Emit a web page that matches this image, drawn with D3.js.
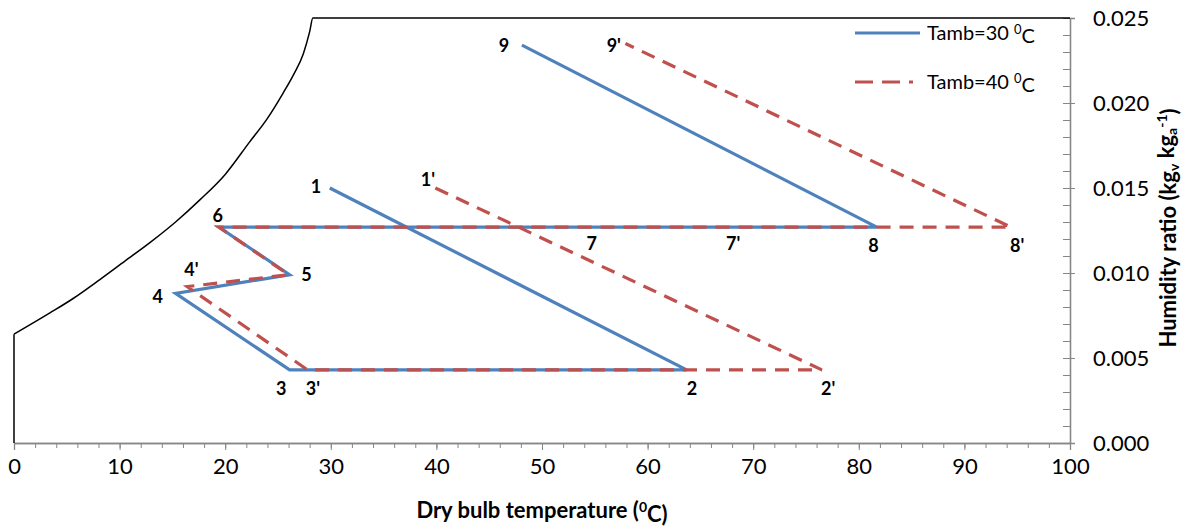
<!DOCTYPE html>
<html lang="en">
<head>
<meta charset="utf-8">
<title>Psychrometric chart</title>
<style>
  body {margin: 0; background: #fff; font-family: Lato, "Noto Sans", sans-serif;}
  svg  {display: block;}
  .tick text {font-size: 22px; fill: #000; font-family: Lato, sans-serif;}
  .lbl  {font-size: 18px; font-weight: bold; fill: #000;}
  .title {font-size: 22px; font-weight: bold; fill: #000;}
</style>
</head>
<body>
<svg id="chart" width="1185" height="529"></svg>

<script src="https://d3js.org/d3.v7.min.js"></script>
<script>
// saturation curve
const satT = [0, 3.4, 5.6, 8.1, 10.5, 12.9, 15.3, 17.6, 20.0, 22.3, 24.0, 25.5, 26.5, 27.4, 28.0, 28.3, 100];
const satW = [0.0064, 0.00765, 0.0085, 0.0096, 0.0107, 0.0118, 0.0130, 0.0143, 0.0158, 0.0177, 0.0191, 0.0206, 0.0217, 0.0229, 0.0242, 0.025, 0.025];

// process points 1 -> 2 -> 3 -> 4 -> 5 -> 6 -> 8 -> 9
const pts30T = [29.9, 63.7, 26.1, 15.3, 26.1, 19.4, 81.7, 48.1];
const pts30W = [0.0150, 0.0043, 0.0043, 0.0088, 0.0099, 0.0127, 0.0127, 0.0234];
const pts40T = [39.9, 76.5, 27.8, 16.4, 26.0, 19.4, 94.4, 57.9];
const pts40W = [0.0150, 0.0043, 0.0043, 0.0092, 0.0099, 0.0127, 0.0127, 0.0235];

// point labels
const lblText = ["1", "2", "3", "4", "5", "6", "7", "8", "9", "1'", "2'", "3'", "4'", "7'", "8'", "9'"];
const lblT    = [28.6, 64.2, 25.3, 13.6, 27.7, 19.3, 54.7, 81.4, 46.4, 39.2, 77.1, 28.3, 16.8, 68.1, 95.0, 56.8];
const lblW    = [0.0151, 0.0032, 0.0032, 0.0086, 0.0099, 0.0134, 0.0117, 0.0116, 0.0234, 0.0155, 0.0032, 0.0032, 0.0102, 0.0117, 0.0116, 0.0234];

const xTicks = d3.range(0, 101, 10);
const yTicks = [0, 0.005, 0.010, 0.015, 0.020, 0.025];

const svg = d3.select("#chart");
const x = d3.scaleLinear().domain([0, 100]).range([14, 1070]);
const y = d3.scaleLinear().domain([0, 0.025]).range([443, 18]);
const axisCol = "#868686";

// x axis
const gx = svg.append("g").attr("transform", "translate(0,443)");
gx.call(d3.axisBottom(x).tickValues(d3.range(0, 101, 2)).tickFormat("").tickSize(5).tickSizeOuter(0));
gx.append("g").call(d3.axisBottom(x).tickValues(xTicks).tickSize(7).tickPadding(8).tickFormat(d3.format("d")));
gx.selectAll("path, line").attr("stroke", axisCol);
gx.selectAll("path.domain").attr("stroke-width", 1.3);

// y axis on the right
const gy = svg.append("g").attr("transform", "translate(1070,0)");
gy.call(d3.axisLeft(y).tickValues(d3.range(0, 0.0251, 0.001)).tickFormat("").tickSize(7).tickSizeOuter(0));
gy.append("g").call(d3.axisRight(y).tickValues(yTicks).tickSize(5).tickPadding(18).tickFormat(d3.format(".3f")));
gy.selectAll("path, line").attr("stroke", axisCol);
gy.selectAll("path.domain").attr("stroke-width", 1.3);
gy.selectAll(".tick text").attr("dy", "0.35em");

// saturation curve
const satLine = d3.line().x(d => x(d[0])).y(d => y(d[1])).curve(d3.curveMonotoneX);
svg.append("path")
  .attr("d", `M${x(0)},${y(0)}L${x(0)},${y(satW[0])}`)
  .attr("stroke", "#000").attr("stroke-width", 1.5).attr("fill", "none");
svg.append("path")
  .attr("d", satLine(satT.map((t, i) => [t, satW[i]])))
  .attr("stroke", "#000").attr("stroke-width", 1.5).attr("fill", "none");

const line = d3.line().x(d => x(d[0])).y(d => y(d[1]));
svg.append("path")
  .attr("d", line(pts30T.map((t, i) => [t, pts30W[i]])))
  .attr("stroke", "#4F81BD").attr("stroke-width", 3.2).attr("fill", "none")
  .attr("stroke-linejoin", "miter");
svg.append("path")
  .attr("d", line(pts40T.map((t, i) => [t, pts40W[i]])))
  .attr("stroke", "#C0504D").attr("stroke-width", 3.2).attr("fill", "none")
  .attr("stroke-dasharray", "14,9");

// labels
svg.append("g").selectAll("text").data(lblText).join("text")
  .attr("class", "lbl")
  .attr("x", (d, i) => x(lblT[i])).attr("y", (d, i) => y(lblW[i]))
  .attr("text-anchor", "middle").attr("dy", "0.35em")
  .text(d => d);

// legend
const legend = [["Tamb=30 ", "#4F81BD", null, 33], ["Tamb=40 ", "#C0504D", "18,9,18,9,4", 82]];
legend.forEach(([txt, col, dash, ly]) => {
  svg.append("line").attr("x1", 855).attr("x2", 920).attr("y1", ly).attr("y2", ly)
    .attr("stroke", col).attr("stroke-width", 3).attr("stroke-dasharray", dash);
  const t = svg.append("text").attr("x", 927).attr("y", ly).attr("dy", "0.35em")
    .style("font-size", "20px").text(txt);
  t.append("tspan").attr("dy", "-0.45em").style("font-size", "13px").text("0");
  t.append("tspan").attr("dy", "0.45em").text("C");
});

// axis titles
const xt = svg.append("text").attr("class", "title").attr("x", 542).attr("y", 518).attr("text-anchor", "middle")
  .text("Dry bulb temperature (");
xt.append("tspan").attr("dy", "-0.45em").style("font-size", "14px").text("0");
xt.append("tspan").attr("dy", "0.45em").text("C)");

const yt = svg.append("text").attr("class", "title")
  .attr("transform", "translate(1176,228) rotate(-90)").attr("text-anchor", "middle")
  .text("Humidity ratio (kg");
yt.append("tspan").attr("dy", "0.2em").style("font-size", "14px").text("v");
yt.append("tspan").attr("dy", "-0.2em").text(" kg");
yt.append("tspan").attr("dy", "0.2em").style("font-size", "14px").text("a");
yt.append("tspan").attr("dy", "-0.7em").style("font-size", "14px").text("-1");
yt.append("tspan").attr("dy", "0.45em").text(")");
</script>
</body>
</html>
